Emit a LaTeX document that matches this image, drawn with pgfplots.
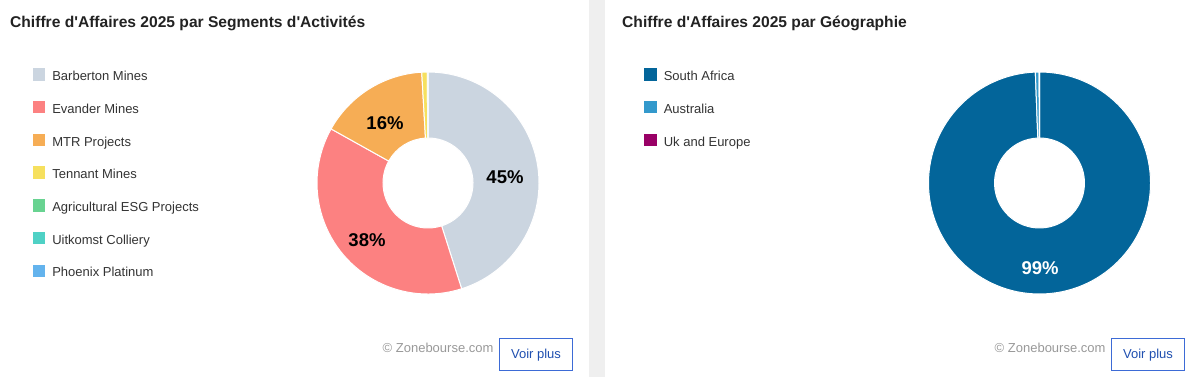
\documentclass[border=0pt]{standalone}
\usepackage{pgfplots}
\pgfplotsset{compat=1.18}
\usepackage{fontspec}
\setmainfont{Liberation Sans}
\usetikzlibrary{calc}

\definecolor{cBar}{HTML}{CBD5E0}
\definecolor{cEva}{HTML}{FC8181}
\definecolor{cMTR}{HTML}{F6AD55}
\definecolor{cTen}{HTML}{F6E05E}
\definecolor{cAgr}{HTML}{68D391}
\definecolor{cUit}{HTML}{4FD1C5}
\definecolor{cPho}{HTML}{63B3ED}
\definecolor{cSA}{HTML}{03659A}
\definecolor{cAU}{HTML}{3399CC}
\definecolor{cUK}{HTML}{990066}
\definecolor{titlec}{HTML}{222222}
\definecolor{legc}{HTML}{333333}
\definecolor{credc}{HTML}{999999}
\definecolor{btnc}{HTML}{3D6BD6}
\definecolor{btntext}{HTML}{1F4FB0}
\definecolor{sepc}{HTML}{EFEFEF}

\newcommand{\aq}{\textquotesingle}

% donut: centre x, centre y, list value/colour
\newcommand{\drawdonut}[3]{%
  \coordinate (DC) at (axis cs:#1,#2);
  \xdef\curang{90}%
  \foreach \v/\c in {#3} {%
    \pgfmathsetmacro\endang{\curang-3.6*\v}%
    \fill[\c, draw=white, line width=1pt]
      ($(DC)+(\curang:111pt)$) arc[start angle=\curang, end angle=\endang, radius=111pt]
      -- ($(DC)+(\endang:45pt)$) arc[start angle=\endang, end angle=\curang, radius=45pt] -- cycle;
    \xdef\curang{\endang}%
  }%
}

\pgfplotsset{
  panel/.style={
    width=1200pt, height=377pt, scale only axis,
    xmin=0, xmax=1200, ymin=0, ymax=377, y dir=reverse,
    hide axis, clip=false,
    legend cell align=left,
    legend image code/.code={\fill[##1, draw=none] (0pt,-6.2pt) rectangle (12.8pt,6.2pt);},
    legend style={
      anchor=north west, draw=none, fill=none,
      inner sep=0pt, outer sep=0pt,
      row sep=20.3pt, column sep=7pt,
      nodes={inner sep=0pt, text height=12.4pt, text depth=0pt},
      font=\fontsize{13}{15}\selectfont, text=legc,
    },
  },
}

\begin{document}
\begin{tikzpicture}
% ---------------- left panel ----------------
\begin{axis}[panel, legend style={at={(axis cs:32.5,68.3)}}]
  \fill[white] (axis cs:0,0) rectangle (axis cs:1200,377);
  \fill[sepc] (axis cs:589,0) rectangle (axis cs:605,377);
  \addlegendimage{fill=cBar, draw=none}\addlegendentry{Barberton Mines}
  \addlegendimage{fill=cEva, draw=none}\addlegendentry{Evander Mines}
  \addlegendimage{fill=cMTR, draw=none}\addlegendentry{MTR Projects}
  \addlegendimage{fill=cTen, draw=none}\addlegendentry{Tennant Mines}
  \addlegendimage{fill=cAgr, draw=none}\addlegendentry{Agricultural ESG Projects}
  \addlegendimage{fill=cUit, draw=none}\addlegendentry{Uitkomst Colliery}
  \addlegendimage{fill=cPho, draw=none}\addlegendentry{Phoenix Platinum}
  \pgfplotsextra{\drawdonut{428}{183}{45.1/cBar, 38.0/cEva, 16.0/cMTR, 0.8/cTen, 0.05/cAgr, 0.03/cUit, 0.02/cPho}}
  \node[anchor=base west, inner sep=0pt, text=titlec, font=\bfseries\fontsize{15.6}{18}\selectfont]
    at (axis cs:10,28) {Chiffre d\aq Affaires 2025 par Segments d\aq Activités};
  \node[font=\bfseries\fontsize{18.5}{20}\selectfont, text=black] at (axis cs:505,177) {45\%};
  \node[font=\bfseries\fontsize{18.5}{20}\selectfont, text=black] at (axis cs:367,240) {38\%};
  \node[font=\bfseries\fontsize{18.5}{20}\selectfont, text=black] at (axis cs:385,123) {16\%};
  \node[anchor=base west, inner sep=0pt, text=credc, font=\fontsize{13}{15}\selectfont]
    at (axis cs:382.5,352.5) {© Zonebourse.com};
  \draw[btnc, line width=1pt] (axis cs:499.5,338.5) rectangle (axis cs:572.5,370.5);
  \node[anchor=base, inner sep=0pt, text=btntext, font=\fontsize{13}{15}\selectfont]
    at (axis cs:536,358) {Voir plus};
\end{axis}
% ---------------- right panel ----------------
\begin{axis}[panel, legend style={at={(axis cs:644,68.3)}}]
  \addlegendimage{fill=cSA, draw=none}\addlegendentry{South Africa}
  \addlegendimage{fill=cAU, draw=none}\addlegendentry{Australia}
  \addlegendimage{fill=cUK, draw=none}\addlegendentry{Uk and Europe}
  \pgfplotsextra{\drawdonut{1039.5}{183}{99.4/cSA, 0.55/cAU, 0.05/cUK}}
  \node[anchor=base west, inner sep=0pt, text=titlec, font=\bfseries\fontsize{15.6}{18}\selectfont]
    at (axis cs:622,28) {Chiffre d\aq Affaires 2025 par Géographie};
  \node[font=\bfseries\fontsize{18.5}{20}\selectfont, text=white] at (axis cs:1040,268) {99\%};
  \node[anchor=base west, inner sep=0pt, text=credc, font=\fontsize{13}{15}\selectfont]
    at (axis cs:994.5,352.5) {© Zonebourse.com};
  \draw[btnc, line width=1pt] (axis cs:1111.5,338.5) rectangle (axis cs:1184.5,370.5);
  \node[anchor=base, inner sep=0pt, text=btntext, font=\fontsize{13}{15}\selectfont]
    at (axis cs:1148,358) {Voir plus};
\end{axis}
\end{tikzpicture}
\end{document}
